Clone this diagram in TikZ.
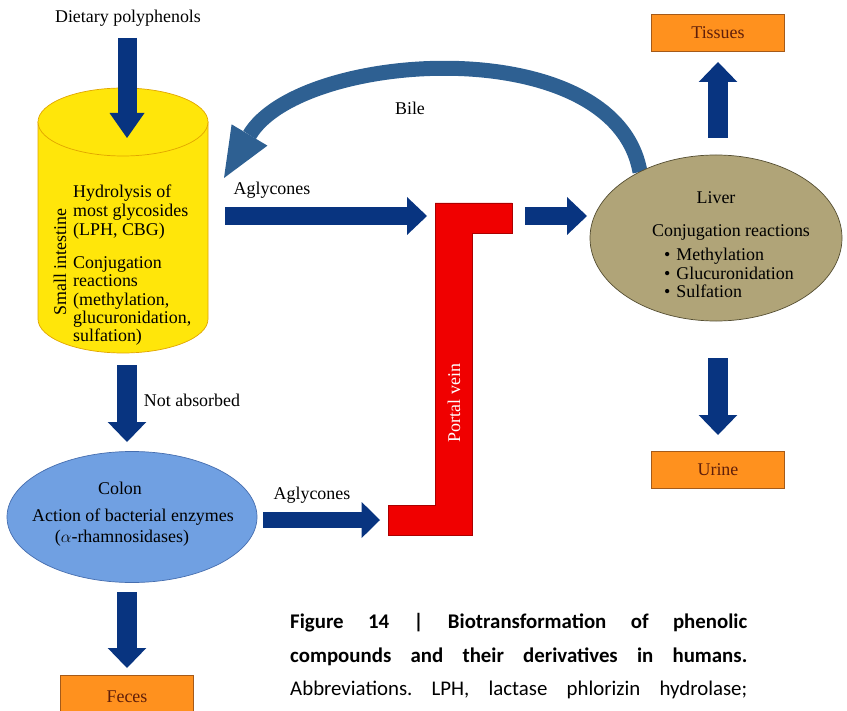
\documentclass[tikz,border=0pt]{standalone}
\usepackage{fontspec}
\setmainfont{Liberation Serif}
\newfontfamily\capfont{Carlito}
\usetikzlibrary{arrows.meta,shapes.geometric}
\definecolor{navy}{RGB}{8,52,128}
\definecolor{bileblue}{RGB}{46,96,146}
\definecolor{cylfill}{RGB}{255,230,10}
\definecolor{cyledge}{RGB}{225,165,0}
\definecolor{liverfill}{RGB}{176,164,120}
\definecolor{liveredge}{RGB}{85,78,50}
\definecolor{colonfill}{RGB}{112,160,226}
\definecolor{colonedge}{RGB}{70,110,175}
\definecolor{boxfill}{RGB}{255,145,30}
\definecolor{boxedge}{RGB}{165,90,25}
\definecolor{boxtext}{RGB}{95,30,10}
\definecolor{veinred}{RGB}{240,0,0}
\definecolor{veinedge}{RGB}{170,0,0}
\begin{document}
\begin{tikzpicture}[x=0.03cm,y=-0.03cm,
  lbl/.style={font=\fontsize{15.3}{16.4}\selectfont, inner sep=0pt},
  vblk/.style={line width=0.6cm, navy, -{Triangle[width=1.16cm,length=0.6cm,line width=0pt]}},
  hblk/.style={line width=0.54cm, navy, -{Triangle[width=1.14cm,length=0.6cm,line width=0pt]}},
  outbox/.style={draw=boxedge, fill=boxfill, line width=0.6pt, minimum width=3.99cm, minimum height=1.11cm, inner sep=0pt, text=boxtext, font=\fontsize{15.3}{16}\selectfont},
  caprow/.style={anchor=base west, inner sep=0pt, font=\capfont\fontsize{17.8}{20}\selectfont\frenchspacing}
]
\useasboundingbox (0,0) rectangle (847,711);
\clip (0,0) rectangle (847,711);

% small intestine cylinder
\path[fill=cylfill, draw=cyledge, line width=0.6pt]
  (38,122) -- (38,319) arc[start angle=180, end angle=0, x radius=85, y radius=34] -- (208,122) -- cycle;
\path[fill=cylfill, draw=cyledge, line width=0.6pt] (123,122) ellipse [x radius=85, y radius=34];

% bile arc
\coordinate (bileS) at (640,172);
\coordinate (bileE) at (224,178);
\draw[line width=0.45cm, bileblue, -{Triangle[width=1.25cm,length=1.5cm,line width=0pt]}]
  (bileS) .. controls (615,30) and (300,50) .. (bileE);

% liver
\node[ellipse, draw=liveredge, fill=liverfill, line width=0.6pt, minimum width=7.56cm, minimum height=4.98cm, inner sep=0pt] (liver) at (716,238) {};
% colon
\node[ellipse, draw=colonedge, fill=colonfill, line width=0.6pt, minimum width=7.5cm, minimum height=3.93cm, inner sep=0pt] (colon) at (132,517) {};

% portal vein
\path[fill=veinred, draw=veinedge, line width=0.5pt]
  (435,203) -- (512,203) -- (512,233) -- (472,233) -- (472,535) -- (388,535) -- (388,505) -- (435,505) -- cycle;
\node[lbl, rotate=90, text=white] (portal) at (454,403) {Portal vein};

% output boxes
\node[outbox] (tissues) at (718,33) {Tissues};
\node[outbox] (urine) at (718,470) {Urine};
\node[outbox, minimum height=1.3cm] (feces) at (127,697) {Feces};

% texts
\node[lbl] (diet) at (128,18) {Dietary polyphenols};
\node[lbl] (bile) at (410,108) {Bile};
\node[lbl] (agl1) at (272,190) {Aglycones};
\node[lbl] (notabs) at (192,400) {Not absorbed};
\node[lbl] (agl2) at (312,495) {Aglycones};
\node[lbl, rotate=90] (si) at (60,262) {Small intestine};
\node[lbl, anchor=west, align=left] (hyd) at (73,212) {Hydrolysis of\\most glycosides\\(LPH, CBG)};
\node[lbl, anchor=west, align=left, font=\fontsize{15.3}{15.6}\selectfont] (conjsi) at (73,301) {Conjugation\\reactions\\(methylation,\\glucuronidation,\\sulfation)};
\node[lbl] (livt) at (716,198) {Liver};
\node[lbl] (conjl) at (731,233) {Conjugation reactions};
\node[lbl, anchor=west, align=left, font=\fontsize{15.3}{15.9}\selectfont] (bul) at (664,273) {\textbullet\hspace{5pt}Methylation\\\textbullet\hspace{5pt}Glucuronidation\\\textbullet\hspace{5pt}Sulfation};
\node[lbl] (colt) at (120,488) {Colon};
\node[lbl] (act) at (133,517) {Action of bacterial enzymes};
\node[lbl] (rham) at (122,538) {($\alpha$-rhamnosidases)};

% block arrows
\coordinate (a1s) at (127,38);   \coordinate (a1e) at (127,138);
\coordinate (a2s) at (127,365);  \coordinate (a2e) at (127,442);
\coordinate (a3s) at (127,592);  \coordinate (a3e) at (127,668);
\coordinate (a4s) at (225,216);  \coordinate (a4e) at (427,216);
\coordinate (a5s) at (525,216);  \coordinate (a5e) at (587,216);
\coordinate (a6s) at (263,520);  \coordinate (a6e) at (380,520);
\coordinate (a7s) at (718,138);  \coordinate (a7e) at (718,62);
\coordinate (a8s) at (718,358);  \coordinate (a8e) at (718,435);
\draw[line width=0.57cm, navy, -{Triangle[width=1.05cm,length=0.75cm,line width=0pt]}] (a1s) -- (a1e);
\draw[vblk] (a2s) -- (a2e);
\draw[vblk] (a3s) -- (a3e);
\draw[hblk] (a4s) -- (a4e);
\draw[hblk] (a5s) -- (a5e);
\draw[line width=0.48cm, navy, -{Triangle[width=1.08cm,length=0.55cm,line width=0pt]}] (a6s) -- (a6e);
\draw[vblk] (a7s) -- (a7e);
\draw[vblk] (a8s) -- (a8e);

% caption
\node[caprow] (cap1) at (290,628) {\makebox[13.71cm][s]{\bfseries Figure 14 | Biotransformation of phenolic}};
\node[caprow] (cap2) at (290,662) {\makebox[13.71cm][s]{\bfseries compounds and their derivatives in humans.}};
\node[caprow] (cap3) at (290,695) {\makebox[13.71cm][s]{Abbreviations. LPH, lactase phlorizin hydrolase;}};
\end{tikzpicture}
\end{document}
